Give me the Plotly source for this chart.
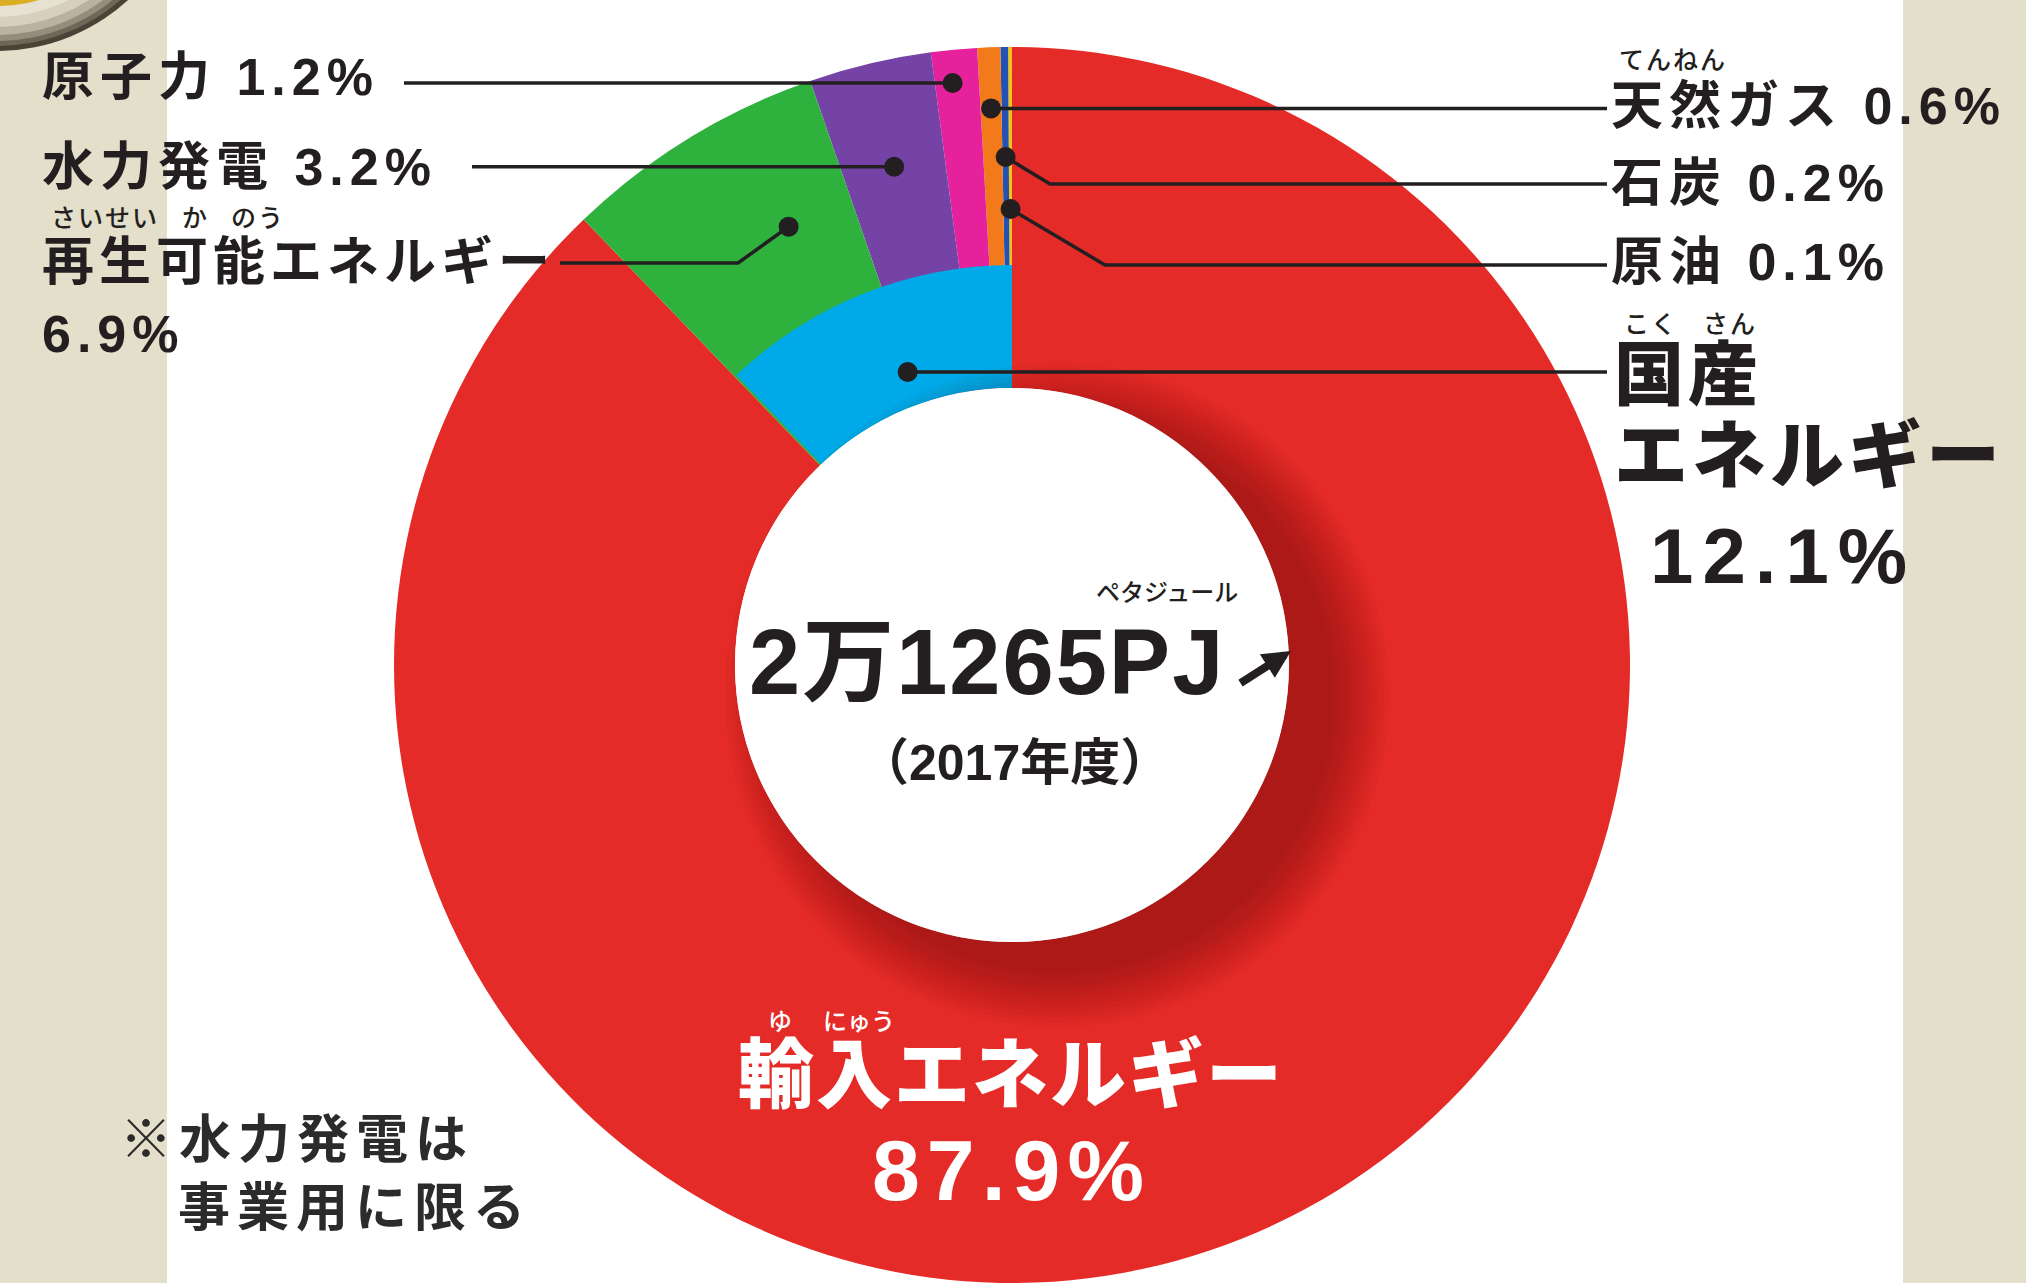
import math
import plotly.graph_objects as go

W, H = 2026, 1283

# ---------------- data ----------------
breakdown_labels = ["輸入エネルギー", "原油", "石炭", "天然ガス", "原子力", "水力発電", "再生可能エネルギー"]
breakdown_values = [87.9, 0.1, 0.2, 0.6, 1.2, 3.2, 6.9]
share_labels = ["輸入エネルギー", "国産エネルギー"]
share_values = [87.9, 12.1]
total_text = "2万1265PJ"
year_text = "（2017年度）"

# ---------------- style ----------------
RED = "#E52B27"
breakdown_colors = [RED, "#F2C417", "#2452B4", "#F27A1B", "#E5229B", "#7542A6", "#2EB13D"]
share_colors = ["rgba(0,0,0,0)", "#00A9E7"]
BEIGE = "#E3DFCA"
INK = "#231F20"
FONT = "Liberation Sans, Noto Sans CJK JP, sans-serif"

CX, CY = 1012, 665          # donut centre (px from top-left)
R_OUT, R_MID, R_HOLE = 618, 400, 277


def P(x, y):
    return x / W, 1 - y / H


def dom(r):
    return dict(x=[(CX - r) / W, (CX + r) / W], y=[(H - CY - r) / H, (H - CY + r) / H])


fig = go.Figure()
fig.add_trace(go.Pie(
    labels=breakdown_labels, values=breakdown_values, sort=False,
    direction="counterclockwise", rotation=0, hole=R_HOLE / R_OUT,
    marker=dict(colors=breakdown_colors, line=dict(width=0)),
    textinfo="none", hoverinfo="label+value", showlegend=False, domain=dom(R_OUT)))
fig.add_trace(go.Pie(
    labels=share_labels, values=share_values, sort=False,
    direction="counterclockwise", rotation=0, hole=R_HOLE / R_MID,
    marker=dict(colors=share_colors, line=dict(width=0)),
    textinfo="none", hoverinfo="label+value", showlegend=False, domain=dom(R_MID)))


def slice_point(values, idx, frac, r):
    # slices after the first run counter-clockwise from 12 o'clock
    tot = sum(values)
    a = (sum(values[1:idx]) + frac * values[idx]) / tot * 2 * math.pi
    return CX - r * math.sin(a), CY - r * math.cos(a)


def circle(cx, cy, r, **kw):
    x0, y0 = P(cx - r, cy + r)
    x1, y1 = P(cx + r, cy - r)
    return dict(type="circle", xref="paper", yref="paper", x0=x0, y0=y0, x1=x1, y1=y1, **kw)


def rect(xa, ya, xb, yb, **kw):
    x0, y0 = P(xa, yb)
    x1, y1 = P(xb, ya)
    return dict(type="rect", xref="paper", yref="paper", x0=x0, y0=y0, x1=x1, y1=y1, **kw)


def path(points, **kw):
    s = ""
    for i, (x, y) in enumerate(points):
        px, py = P(x, y)
        s += ("M" if i == 0 else " L") + f"{px:.5f},{py:.5f}"
    return dict(type="path", xref="paper", yref="paper", path=s, **kw)


shapes = []
# side strips
shapes.append(rect(0, 0, 167, H, fillcolor=BEIGE, line=dict(width=0), layer="below"))
shapes.append(rect(1903, 0, W, H, fillcolor=BEIGE, line=dict(width=0), layer="below"))
# decorative ring in the corner
for rr, col in [(194, "#4a4236"), (189, "#6e6656"), (184, "#958d7b"), (178, "#b9b29f"),
                (170, "#d6d0bd"), (160, "#e6e1d0"), (149, "#dcae22")]:
    shapes.append(circle(-3, -143, rr, fillcolor=col, line=dict(width=0), layer="below"))

# soft shadow of the centre disc
for i in range(12):
    shapes.append(circle(CX + 45, CY + 30, R_HOLE + 5 * i, fillcolor="#3a0000",
                         opacity=0.03, line=dict(width=0), layer="above"))
shapes.append(circle(CX, CY, R_HOLE, fillcolor="white", line=dict(width=0), layer="above"))

LW = 3.5
DOT = 10
# callouts: (values, index, frac, radius, route)
callouts = [
    (breakdown_values, 4, 0.6, 585, [("h", 404)]),                 # 原子力
    (breakdown_values, 5, 0.5, 512, [("h", 472)]),                 # 水力発電
    (breakdown_values, 6, 0.32, 492, [(738, 263), (560, 263)]),    # 再生可能
    (breakdown_values, 3, 0.5, 557, [("h", 1607)]),                # 天然ガス
    (breakdown_values, 2, 0.5, 508, [(1050, 184), (1607, 184)]),   # 石炭
    (breakdown_values, 1, 0.5, 456, [(1105, 265), (1607, 265)]),   # 原油
    (share_values, 1, 0.45, 311, [("h", 1607)]),                   # 国産
]
for vals, idx, frac, r, route in callouts:
    dx, dy = slice_point(vals, idx, frac, r)
    pts = [(dx, dy)]
    for p in route:
        pts.append((p[1], dy) if p[0] == "h" else p)
    shapes.append(path(pts, line=dict(color=INK, width=LW), layer="above"))
    shapes.append(circle(dx, dy, DOT, fillcolor=INK, line=dict(width=0), layer="above"))

anns = []


def ann(text, x, y, size, color=INK, weight=500, xanchor="left", ls=0):
    px, py = P(x, y)
    if ls:
        text = f'<span style="letter-spacing:{ls}px">{text}</span>'
    anns.append(dict(text=text, x=px, y=py, xref="paper", yref="paper", xanchor=xanchor,
                     yanchor="middle", showarrow=False,
                     font=dict(family=FONT, size=size, color=color, weight=weight)))


# left labels
ann("原子力 1.2%", 40, 77, 52, weight=700, ls=6)
ann("水力発電 3.2%", 40, 167, 52, weight=700, ls=6)
ann("さいせい", 105, 218, 25, xanchor="center", ls=2)
ann("か", 194, 218, 25, xanchor="center")
ann("のう", 258, 218, 25, xanchor="center", ls=2)
ann("再生可能エネルギー", 40, 262, 52, weight=700, ls=5)
ann("6.9%", 40, 334, 52, weight=700, ls=6)
# right labels
ann("てんねん", 1673, 60, 25, xanchor="center", ls=2)
ann("天然ガス 0.6%", 1609, 106, 52, weight=700, ls=6)
ann("石炭 0.2%", 1609, 183, 52, weight=700, ls=6)
ann("原油 0.1%", 1609, 262, 52, weight=700, ls=6)
ann("こく", 1651, 324, 25, xanchor="center", ls=2)
ann("さん", 1730, 324, 25, xanchor="center", ls=2)
ann("国産", 1612, 376, 70, weight=900, ls=4)
ann("エネルギー", 1612, 456, 74, weight=900, ls=4)
ann("12.1%", 1783, 556, 78, weight=700, xanchor="center", ls=9)
# centre
ann("ペタジュール", 1167, 593, 24, xanchor="center")
ann(total_text, 987, 662, 92, weight=700, xanchor="center", ls=2)
ann(year_text, 1014, 763, 50, weight=600, xanchor="center")
hx, hy = P(1291, 651)
anns.append(dict(text="", x=hx, y=hy, xref="paper", yref="paper", showarrow=True,
                 ax=-52, ay=33, arrowhead=2, arrowsize=0.7, arrowwidth=8, arrowcolor=INK))
# bottom
ann("ゆ", 780, 1021, 24, color="white", xanchor="center")
ann("にゅう", 859, 1021, 24, color="white", xanchor="center")
ann("輸入エネルギー", 1011, 1075, 76, color="white", weight=900, xanchor="center", ls=2)
ann("87.9%", 1011, 1170, 86, color="white", weight=700, xanchor="center", ls=7)
ann("※水力発電は", 118, 1140, 52, color="#2b2b2b", weight=700, ls=7)
ann("事業用に限る", 176, 1208, 52, color="#2b2b2b", weight=700, ls=7)

fig.update_layout(
    width=W, height=H, margin=dict(l=0, r=0, t=0, b=0),
    paper_bgcolor="white", plot_bgcolor="white",
    shapes=shapes, annotations=anns, showlegend=False,
)
fig.write_html("out.html", config={"displayModeBar": False},
               post_script="document.body.style.margin='0';document.body.style.overflow='hidden';")
